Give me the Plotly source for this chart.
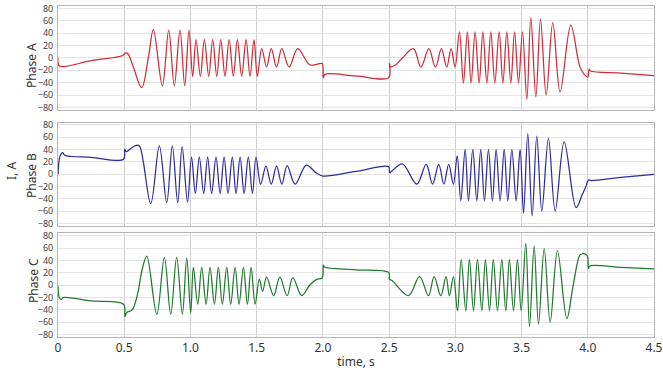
import plotly.graph_objects as go

# ---------------- data ----------------
T_A = [0.0, 0.012, 0.25, 0.49, 0.51, 0.53, 0.569, 0.632, 0.682, 0.72, 0.788, 0.836, 0.878, 0.921, 0.957, 0.989,
       1.017, 1.042, 1.075, 1.105, 1.138, 1.168, 1.199, 1.229, 1.261, 1.292, 1.324, 1.354, 1.387, 1.420, 1.450, 1.480, 1.505,
       1.538, 1.575, 1.61, 1.65, 1.69, 1.745, 1.81, 1.90, 1.96, 1.995, 2.003, 2.015, 2.25, 2.497,
       2.503, 2.51, 2.55, 2.60, 2.684, 2.74, 2.80, 2.85, 2.895, 2.935, 2.968, 2.998,
       3.031, 3.061, 3.091, 3.119, 3.149, 3.180, 3.208, 3.238, 3.268, 3.298, 3.331, 3.359, 3.389, 3.419, 3.447, 3.477, 3.507,
       3.540, 3.570, 3.608, 3.643, 3.686, 3.736, 3.791, 3.872, 3.94, 3.975, 4.0, 4.01, 4.02, 4.25, 4.5]
I_A = [0, -13, -4.3, 4.0, 8, 6, -14.6, -48, 0, 46, -45, 45, -45, 45, -45, 45,
       -29.6, 29.8, -29.6, 29.8, -29.6, 29.8, -29.6, 29.8, -29.6, 29.8, -29.6, 29.8, -29.6, 29.8, -29.6, 29.8, -29.6,
       15, -14.6, 15, -14.6, 15, -14.6, 15, -11, -10, -9, -32, -26.5, -29, -31.8,
       -9, -14, -11, 0, 15, -15, 15, -15, 15, -15, 15, -15,
       42, -40.5, 42, -40.5, 42, -40.5, 42, -40.5, 42, -40.5, 42, -40.5, 42, -40.5, 42, -40.5, 42,
       -67, 65.4, -63, 62.7, -60, 57.3, -55, 53, -14, -27, -31, -18, -21, -24.5, -28.5]

T_B = [0.0, 0.01, 0.02, 0.035, 0.05, 0.25, 0.495, 0.503, 0.515, 0.55, 0.59, 0.615, 0.70, 0.765, 0.821, 0.863, 0.904, 0.937, 0.978,
       1.008, 1.037, 1.067, 1.100, 1.130, 1.160, 1.193, 1.224, 1.254, 1.284, 1.316, 1.344, 1.375, 1.405, 1.437, 1.468, 1.495,
       1.53, 1.57, 1.61, 1.65, 1.69, 1.73, 1.79, 1.875, 1.95, 2.0, 2.25, 2.497,
       2.503, 2.52, 2.60, 2.709, 2.78, 2.828, 2.875, 2.913, 2.95, 2.985, 3.014,
       3.041, 3.074, 3.099, 3.132, 3.162, 3.192, 3.220, 3.250, 3.280, 3.308, 3.338, 3.369, 3.396, 3.427, 3.459, 3.489,
       3.515, 3.547, 3.58, 3.615, 3.653, 3.703, 3.754, 3.822, 3.912, 3.96, 3.985, 4.0, 4.01, 4.02, 4.25, 4.5]
I_B = [0, 25, 32, 35, 31, 27.5, 24.3, 40.5, 36.6, 42, 47, 46, -47.6, 46, -46, 46, -46, 45, -45,
       28, -31, 28, -31, 28, -31, 28, -31, 28, -31, 28, -31, 28, -31, 28, -31, 28,
       -16, 13.4, -16, 13.4, -16, 14, -16, 15, 2, -2.8, 4.7, 12.3,
       2.6, 5, 17, -16, 16, -16, 16, -16, 16, -16, 30,
       -43, 40.5, -43, 40.5, -43, 40.5, -43, 40.5, -43, 40.5, -43, 40.5, -43, 40.5, -43, 40.5,
       -63, 65.8, -67.5, 62, -59.5, 58.3, -59.5, 52.8, -54, -32, -20, -11, -9, -10, -5, 0]

T_C = [0.0, 0.01, 0.025, 0.04, 0.25, 0.495, 0.505, 0.52, 0.56, 0.60, 0.635, 0.670, 0.746, 0.803, 0.851, 0.896, 0.939, 0.972, 1.002,
       1.022, 1.055, 1.085, 1.118, 1.148, 1.181, 1.211, 1.241, 1.274, 1.304, 1.337, 1.367, 1.400, 1.430, 1.458, 1.488,
       1.52, 1.545, 1.575, 1.628, 1.675, 1.73, 1.773, 1.84, 1.90, 1.95, 1.995, 2.003, 2.012, 2.25, 2.497,
       2.503, 2.52, 2.646, 2.73, 2.797, 2.84, 2.89, 2.93, 2.955, 2.986,
       3.016, 3.044, 3.079, 3.106, 3.137, 3.167, 3.200, 3.227, 3.258, 3.287, 3.318, 3.351, 3.381, 3.408, 3.439, 3.469, 3.497,
       3.532, 3.560, 3.595, 3.628, 3.671, 3.716, 3.771, 3.842, 3.89, 3.94, 3.96, 3.99, 4.0, 4.005, 4.015, 4.25, 4.5]
I_C = [-1, -20, -23, -20, -25.5, -30.8, -50.7, -44, -40, -15, 25, 47, -47, 45, -47, 45, -47, 44, -45,
       28.7, -30.8, 28.7, -30.8, 28.7, -30.8, 28.7, -30.8, 28.7, -30.8, 28.7, -30.8, 28.7, -30.8, 28.7, -30.8,
       10, -10, 13, -17, 13, -17, 12.4, -17, 0, 9, 12, 32.4, 29.5, 25, 20.5,
       9.7, 8, -17, 14, -17, 14, -17, 14, -17, 14,
       -41.6, 42, -41.6, 42, -41.6, 42, -41.6, 42, -41.6, 42, -41.6, 42, -41.6, 42, -41.6, 42, -41.6,
       68, -67, 63.7, -63, 59.4, -60.5, 55.6, -54, 0, 48.6, 51, 49, 45, 27, 31, 29, 26.6]

PHASE_NAMES = ["Phase A", "Phase B", "Phase C"]
X_TICKS = [0, 0.5, 1.0, 1.5, 2.0, 2.5, 3.0, 3.5, 4.0, 4.5]
X_TICK_TEXT = ["0", "0.5", "1.0", "1.5", "2.0", "2.5", "3.0", "3.5", "4.0", "4.5"]
Y_TICKS = [-80, -60, -40, -20, 0, 20, 40, 60, 80]

COLORS = ["#d22a36", "#2c2c9e", "#1f7a2c"]

# ---------------- figure ----------------
W, H = 663, 372
ML, MR, MT, MB = 58, 9, 6, 35
domains = [[0.686, 1.0], [0.335, 0.648], [0.0, 0.313]]
series = [(T_A, I_A), (T_B, I_B), (T_C, I_C)]

fig = go.Figure()
for i, (t, v) in enumerate(series):
    ax = "" if i == 0 else str(i + 1)
    fig.add_trace(go.Scatter(x=t, y=v, mode="lines",
                             line=dict(color=COLORS[i], width=1.25, shape="spline", smoothing=1.0),
                             xaxis="x" + ax, yaxis="y" + ax, showlegend=False, hoverinfo="skip"))

FONT = "Noto Sans"
layout = dict(width=W, height=H, margin=dict(l=ML, r=MR, t=MT, b=MB, autoexpand=False),
              paper_bgcolor="white", plot_bgcolor="white",
              font=dict(family=FONT, color="#333333"), showlegend=False)

for i in range(3):
    ax = "" if i == 0 else str(i + 1)
    xa = dict(domain=[0, 1], range=[0, 4.5], tickvals=X_TICKS, ticktext=X_TICK_TEXT,
              showgrid=True, gridcolor="#cfcfcf", gridwidth=1, zeroline=False,
              showline=True, linecolor="#b5b5b5", linewidth=1, mirror=True,
              anchor="y" + ax, ticks="", showticklabels=(i == 2),
              tickfont=dict(size=12, color="#333333", family=FONT))
    if i != 0:
        xa["matches"] = "x"
    if i == 2:
        xa["title"] = dict(text="time, s", font=dict(size=12, color="#333333", family=FONT), standoff=2)
    ya = dict(domain=domains[i], range=[-84, 84], tickvals=Y_TICKS,
              showgrid=True, gridcolor="#e3e3e3", gridwidth=1, zeroline=False,
              showline=True, linecolor="#b5b5b5", linewidth=1, mirror=True,
              anchor="x" + ax, ticks="", ticklabelstandoff=2,
              tickfont=dict(size=9, color="#444444", family=FONT))
    layout["xaxis" + ax] = xa
    layout["yaxis" + ax] = ya

fig.update_layout(**layout)

plot_w = W - ML - MR
def px_to_paper_x(px):
    return (px - ML) / plot_w
plot_h = H - MT - MB
def py_to_paper_y(py):
    return (H - MB - py) / plot_h

label_pos = [(31, 66), (32, 176), (33, 281)]
for name, (lx, ly) in zip(PHASE_NAMES, label_pos):
    fig.add_annotation(text=name, xref="paper", yref="paper", x=px_to_paper_x(lx), y=py_to_paper_y(ly),
                       textangle=-90, showarrow=False, xanchor="center", yanchor="middle",
                       font=dict(size=12, color="#333333", family=FONT))
fig.add_annotation(text="I, A", xref="paper", yref="paper", x=px_to_paper_x(11), y=py_to_paper_y(171),
                   textangle=-90, showarrow=False, xanchor="center", yanchor="middle",
                   font=dict(size=12, color="#333333", family=FONT))

fig.write_html("out.html", config={"displayModeBar": False},
               post_script="document.body.style.margin='0';document.body.style.padding='0';")
